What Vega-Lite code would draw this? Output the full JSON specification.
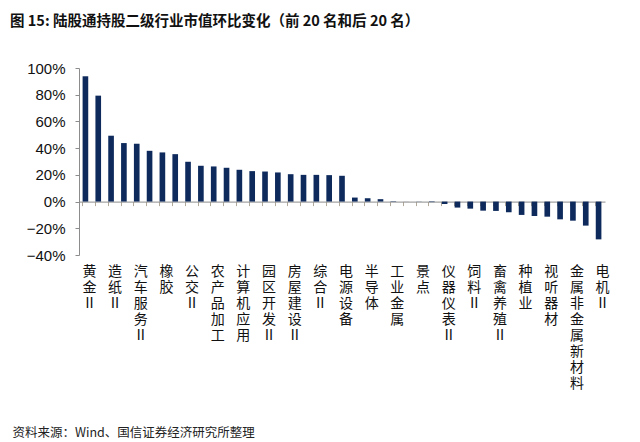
{
  "$schema": "https://vega.github.io/schema/vega-lite/v6.json",
  "width": 526,
  "height": 187,
  "autosize": {"type": "none"},
  "padding": {"left": 79, "top": 68, "right": 35, "bottom": 187},
  "background": "white",
  "title": {
    "text": "图  15:  陆股通持股二级行业市值环比变化（前 20 名和后 20 名）",
    "anchor": "start",
    "frame": "group",
    "dx": -69,
    "offset": 32,
    "font": "Noto Sans CJK SC",
    "fontSize": 14.5,
    "fontWeight": "bold",
    "color": "#111111"
  },
  "config": {"view": {"stroke": null}},
  "data": {
    "values": [
      {"name": "黄金Ⅱ", "value": 0.938},
      {"name": "航空运输Ⅱ", "value": 0.793},
      {"name": "造纸Ⅱ", "value": 0.493},
      {"name": "医疗服务Ⅱ", "value": 0.438},
      {"name": "汽车服务Ⅱ", "value": 0.433},
      {"name": "酒店Ⅱ", "value": 0.38},
      {"name": "橡胶", "value": 0.368},
      {"name": "港口Ⅱ", "value": 0.355},
      {"name": "公交Ⅱ", "value": 0.298},
      {"name": "旅游综合Ⅱ", "value": 0.268},
      {"name": "农产品加工", "value": 0.263},
      {"name": "环保工程及服务Ⅱ", "value": 0.253},
      {"name": "计算机应用", "value": 0.238},
      {"name": "高速公路Ⅱ", "value": 0.228},
      {"name": "园区开发Ⅱ", "value": 0.225},
      {"name": "白色家电", "value": 0.218},
      {"name": "房屋建设Ⅱ", "value": 0.205},
      {"name": "燃气Ⅱ", "value": 0.2},
      {"name": "综合Ⅱ", "value": 0.2},
      {"name": "航运Ⅱ", "value": 0.198},
      {"name": "电源设备", "value": 0.193},
      {"name": "通信设备", "value": 0.03},
      {"name": "半导体", "value": 0.025},
      {"name": "电子制造", "value": 0.018},
      {"name": "工业金属", "value": 0.003},
      {"name": "光学光电子", "value": 0.0005},
      {"name": "景点", "value": -0.001},
      {"name": "机场Ⅱ", "value": -0.004},
      {"name": "仪器仪表Ⅱ", "value": -0.018},
      {"name": "钢铁Ⅱ", "value": -0.045},
      {"name": "饲料Ⅱ", "value": -0.053},
      {"name": "渔业", "value": -0.068},
      {"name": "畜禽养殖Ⅱ", "value": -0.07},
      {"name": "林业Ⅱ", "value": -0.08},
      {"name": "种植业", "value": -0.1},
      {"name": "塑料", "value": -0.108},
      {"name": "视听器材", "value": -0.113},
      {"name": "稀有金属", "value": -0.133},
      {"name": "金属非金属新材料", "value": -0.143},
      {"name": "玻璃制造Ⅱ", "value": -0.18},
      {"name": "电机Ⅱ", "value": -0.283}
    ]
  },
  "mark": {"type": "bar", "color": "#0E2A5C"},
  "encoding": {
    "x": {
      "field": "name",
      "type": "nominal",
      "sort": null,
      "scale": {"paddingInner": 0.56, "paddingOuter": 0.28},
      "axis": {
        "title": "资料来源：Wind、国信证券经济研究所整理",
        "offset": -53.4,
        "domainColor": "#8c8c8c",
        "tickColor": "#b0a898",
        "tickSize": 4,
        "bandPosition": 0,
        "labelAngle": 0,
        "labelAlign": "center",
        "labelBaseline": "top",
        "labelPadding": 59,
        "labelOffset": 4,
        "labelExpr": "round(datum.index * 40) % 2 == 0 ? split(datum.label, '') : ''",
        "labelFont": "Noto Sans CJK SC",
        "labelFontSize": 14,
        "labelLineHeight": 16,
        "labelOverlap": false,
        "labelBound": false,
        "labelFlush": false,
        "labelColor": "#111111",
        "titleX": -67,
        "titleY": 231,
        "titleAlign": "left",
        "titleAnchor": "start",
        "titleBaseline": "middle",
        "titleFont": "Noto Sans CJK SC",
        "titleFontSize": 12.5,
        "titleFontWeight": "normal",
        "titleColor": "#222222"
      }
    },
    "y": {
      "field": "value",
      "type": "quantitative",
      "scale": {"domain": [-0.4, 1.0], "nice": false, "zero": false},
      "axis": {
        "title": null,
        "values": [-0.4, -0.2, 0, 0.2, 0.4, 0.6, 0.8, 1.0],
        "format": ".0%",
        "grid": false,
        "domainColor": "#8c8c8c",
        "tickColor": "#8c8c8c",
        "tickSize": 4,
        "labelPadding": 10,
        "labelFont": "Liberation Sans",
        "labelFontSize": 15,
        "labelColor": "#111111"
      }
    }
  }
}
